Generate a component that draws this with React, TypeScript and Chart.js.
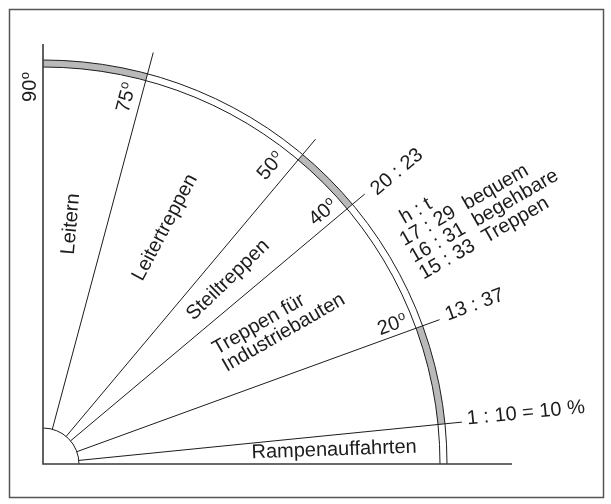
import React, { useEffect, useRef } from "react";
import { Chart, registerables } from "chart.js";

Chart.register(...registerables);

// ---- data (angles in degrees, lengths in chart units) ----
const rayAnglesDeg = [75, 50, 40, 20, 5.71];
const rayOuterLengths = [426, 424, 420, 422, 421];
const hubRadius = 36;
const arcInnerRadius = 397;
const arcOuterRadius = 404;
const grayBandFrom = [90, 50, 20];
const grayBandTo = [75, 40, 5.71];
const verticalAxisLength = 420;
const horizontalAxisLength = 469;

const degreeLabels = ["90", "75", "50", "40", "20"];
const sectorLabels = ["Leitern", "Leitertreppen", "Steiltreppen", "Rampenauffahrten"];
const industryLabels = ["Treppen für", "Industriebauten"];
const ratioLabels = ["20 : 23", "13 : 37", "1 : 10 = 10 %"];
const ratioTableLeft = ["h", "17", "16", "15"];
const ratioTableRight = ["t", "29", "31", "33"];
const comfortWords = ["bequem", "begehbare", "Treppen"];

// ---- layout of annotations (chart units) ----
const degreePlacement = [
  { x: -12.5, y: 377, rot: -90 },
  { x: 83.7, y: 366.5, rot: -75 },
  { x: 228, y: 298, rot: -50 },
  { x: 280.3, y: 251.5, rot: -40 },
  { x: 349.5, y: 139, rot: -20 },
];
const sectorPlacement = [
  { x: 28, y: 240, rot: -85, align: "center", base: "middle" },
  { x: 122, y: 236.5, rot: -62, align: "center", base: "middle" },
  { x: 185, y: 184, rot: -44, align: "center", base: "middle" },
  { x: 208.7, y: 5.7, rot: -2, align: "left", base: "alphabetic" },
];
const industryPlacement = { x: 174, y: 109, rot: -30, lh: 19.5 };
const ratioPlacement = [
  { x: 354, y: 292, rot: -40, align: "center", base: "middle" },
  { x: 431.5, y: 159, rot: -20, align: "center", base: "middle" },
  { x: 424.5, y: 39.5, rot: -5.71, align: "left", base: "alphabetic" },
];
const tablePlacement = { x: 375.3, y: 254.5, rot: -30, lh: 19.3, wordOffset: 42 };

const FONT = '"Liberation Sans", Arial, Helvetica, sans-serif';
const INK = "#1c1c1c";

const rad = (d: number) => (d * Math.PI) / 180;

const rayDatasets = rayAnglesDeg.map((a, i) => ({
  data: [
    { x: hubRadius * Math.cos(rad(a)), y: hubRadius * Math.sin(rad(a)) },
    { x: rayOuterLengths[i] * Math.cos(rad(a)), y: rayOuterLengths[i] * Math.sin(rad(a)) },
  ],
  showLine: true,
  borderColor: INK,
  borderWidth: 1,
  pointRadius: 0,
}));

const axisDatasets = [
  {
    data: [
      { x: 0, y: verticalAxisLength },
      { x: 0, y: 0 },
      { x: horizontalAxisLength, y: 0 },
    ],
    showLine: true,
    borderColor: "#3a3a3a",
    borderWidth: 1.6,
    pointRadius: 0,
  },
];

const diagramPlugin = {
  id: "diagram",
  beforeDatasetsDraw(chart: any) {
    const ctx = chart.ctx as CanvasRenderingContext2D;
    const xs = chart.scales.x;
    const ys = chart.scales.y;
    const cx = xs.getPixelForValue(0);
    const cy = ys.getPixelForValue(0);
    const r = (v: number) => xs.getPixelForValue(v) - cx;
    ctx.save();
    // frame
    ctx.strokeStyle = "#555";
    ctx.lineWidth = 1.5;
    ctx.strokeRect(9.5, 9.5, 594, 488);
    // gray bands
    ctx.fillStyle = "#b9b9b9";
    for (let i = 0; i < grayBandFrom.length; i++) {
      ctx.beginPath();
      ctx.arc(cx, cy, r(arcOuterRadius), -rad(grayBandFrom[i]), -rad(grayBandTo[i]), false);
      ctx.arc(cx, cy, r(arcInnerRadius), -rad(grayBandTo[i]), -rad(grayBandFrom[i]), true);
      ctx.closePath();
      ctx.fill();
    }
    // arcs
    ctx.strokeStyle = INK;
    ctx.lineWidth = 1;
    for (const R of [arcInnerRadius, arcOuterRadius, hubRadius]) {
      ctx.beginPath();
      ctx.arc(cx, cy, r(R), -Math.PI / 2, 0, false);
      ctx.stroke();
    }
    ctx.restore();
  },
  afterDatasetsDraw(chart: any) {
    const ctx = chart.ctx as CanvasRenderingContext2D;
    const xs = chart.scales.x;
    const ys = chart.scales.y;
    const P = (x: number, y: number) => [xs.getPixelForValue(x), ys.getPixelForValue(y)];
    const font = (s: number) => `${s}px ${FONT}`;
    ctx.save();
    ctx.fillStyle = INK;

    const put = (text: string, pl: any) => {
      const [x, y] = P(pl.x, pl.y);
      ctx.save();
      ctx.translate(x, y);
      ctx.rotate(rad(pl.rot));
      ctx.font = font(20);
      ctx.textAlign = pl.align;
      ctx.textBaseline = pl.base;
      ctx.fillText(text, 0, 0);
      ctx.restore();
    };

    // degree labels with superscript o
    degreeLabels.forEach((t, i) => {
      const pl = degreePlacement[i];
      const [x, y] = P(pl.x, pl.y);
      ctx.save();
      ctx.translate(x, y);
      ctx.rotate(rad(pl.rot));
      ctx.textAlign = "left";
      ctx.textBaseline = "middle";
      ctx.font = font(20);
      const w = ctx.measureText(t).width;
      ctx.font = font(13);
      const wo = ctx.measureText("o").width;
      const start = -(w + 0.5 + wo) / 2;
      ctx.font = font(20);
      ctx.fillText(t, start, 0);
      ctx.font = font(13);
      ctx.fillText("o", start + w + 0.5, -5);
      ctx.restore();
    });

    sectorLabels.forEach((t, i) => put(t, sectorPlacement[i]));
    ratioLabels.forEach((t, i) => put(t, ratioPlacement[i]));

    // industry two-line label
    {
      const pl = industryPlacement;
      const [x, y] = P(pl.x, pl.y);
      ctx.save();
      ctx.translate(x, y);
      ctx.rotate(rad(pl.rot));
      ctx.font = font(20);
      ctx.textAlign = "left";
      ctx.textBaseline = "alphabetic";
      industryLabels.forEach((t, i) => ctx.fillText(t, 0, i * pl.lh));
      ctx.restore();
    }

    // ratio table h : t
    {
      const pl = tablePlacement;
      const [x, y] = P(pl.x, pl.y);
      ctx.save();
      ctx.translate(x, y);
      ctx.rotate(rad(pl.rot));
      ctx.font = font(20);
      ctx.textBaseline = "middle";
      ratioTableLeft.forEach((l, i) => {
        const yy = i * pl.lh;
        ctx.textAlign = "right";
        ctx.fillText(l, -8.3, yy);
        ctx.textAlign = "center";
        ctx.fillText(":", 0, yy);
        ctx.textAlign = "left";
        ctx.fillText(ratioTableRight[i], 8.3, yy);
      });
      ctx.textAlign = "left";
      comfortWords.forEach((w, i) => ctx.fillText(w, pl.wordOffset, (i + 1) * pl.lh));
      ctx.restore();
    }
    ctx.restore();
  },
};

export default function App() {
  const ref = useRef<HTMLCanvasElement | null>(null);
  useEffect(() => {
    if (!ref.current) return;
    const chart = new Chart(ref.current, {
      type: "scatter",
      data: { datasets: [...axisDatasets, ...rayDatasets] as any },
      options: {
        animation: false,
        responsive: false,
        events: [],
        layout: { padding: 0 },
        plugins: { legend: { display: false }, tooltip: { enabled: false } },
        scales: {
          x: { type: "linear", display: false, min: -43, max: 568 },
          y: { type: "linear", display: false, min: -40, max: 464 },
        },
      },
      plugins: [diagramPlugin],
    });
    return () => chart.destroy();
  }, []);
  return (
    <canvas
      ref={ref}
      width={611}
      height={504}
      style={{ position: "absolute", left: 0, top: 0, display: "block", background: "#fff" }}
    />
  );
}
